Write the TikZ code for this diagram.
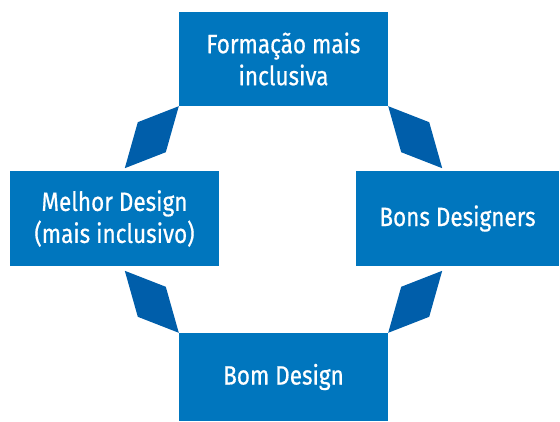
\documentclass[tikz,border=0pt]{standalone}
\usepackage{fontspec}
\setmainfont{Fira Sans}[FakeStretch=0.85, FakeBold=0.6]
\usepackage{xcolor}
\definecolor{boxblue}{RGB}{0,118,190}
\definecolor{linkblue}{RGB}{0,94,170}

\begin{document}
\begin{tikzpicture}[x=1pt, y=-1pt]
        % ================= 样式定义 =================
        \tikzset{
            cbox/.style={rectangle, fill=boxblue, text=white, inner sep=0pt, align=center,
                         font=\fontsize{26.5}{32}\selectfont},
            link/.style={fill=linkblue}
        }

        \useasboundingbox (0,0) rectangle (560,422);

        % ================= 四个方框 =================
        \node[cbox, minimum width=209pt, minimum height=94pt] (form) at (283.5,59) {Formação mais\\inclusiva};   % 上
        \node[cbox, minimum width=209pt, minimum height=95pt] (melhor) at (114.5,218.5) {Melhor Design\\(mais inclusivo)}; % 左
        \node[cbox, minimum width=203pt, minimum height=95pt] (bons) at (457.5,218.5) {Bons Designers};   % 右
        \node[cbox, minimum width=209pt, minimum height=88pt] (bom) at (283.5,377) {Bom Design};   % 下

        % ================= 连接块 =================
        \fill[link] (form.south west) -- ++(-41,16) -- ++(-13,46) -- ++(41,-16) -- cycle;  % 左上
        \fill[link] (form.south east) -- ++(41,16) -- ++(13,46) -- ++(-41,-16) -- cycle;   % 右上
        \fill[link] (bom.north west) -- ++(-41,-16) -- ++(-13,-46) -- ++(41,16) -- cycle;  % 左下
        \fill[link] (bom.north east) -- ++(41,-16) -- ++(13,-46) -- ++(-41,16) -- cycle;   % 右下

    \end{tikzpicture}
\end{document}
